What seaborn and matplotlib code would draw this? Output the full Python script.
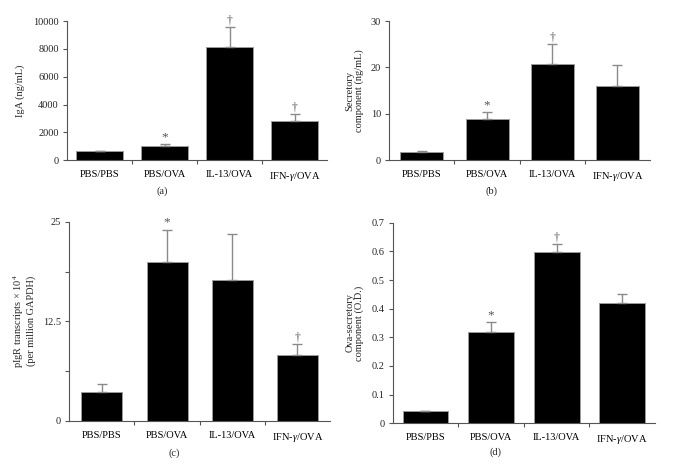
import matplotlib
matplotlib.use("Agg")
import matplotlib.pyplot as plt
import seaborn as sns
import pandas as pd
import numpy as np

groups = ["PBS/PBS", "PBS/OVA", "IL-13/OVA", "IFN-$\\gamma$/OVA"]

iga_mean = [650, 1030, 8150, 2800]
iga_err = [40, 120, 1400, 500]
iga_marks = ["", "*", "\u2020", "\u2020"]

sc_mean = [1.8, 9.0, 20.7, 15.9]
sc_err = [0.1, 1.3, 4.3, 4.6]
sc_marks = ["", "*", "\u2020", ""]

pigr_mean = [3.7, 19.9, 17.7, 8.3]
pigr_err = [0.9, 4.1, 5.7, 1.3]
pigr_marks = ["", "*", "", "\u2020"]

ova_mean = [0.042, 0.319, 0.598, 0.420]
ova_err = [0.002, 0.033, 0.026, 0.032]
ova_marks = ["", "*", "\u2020", ""]

sns.set_theme(style="ticks")
plt.rcParams['font.family'] = ['Liberation Serif', 'DejaVu Serif']
plt.rcParams['mathtext.fontset'] = 'custom'
plt.rcParams['mathtext.it'] = 'Liberation Serif:italic'
plt.rcParams['mathtext.rm'] = 'Liberation Serif'

fig = plt.figure(figsize=(6.81, 4.66), dpi=100)

AX_COL = "#555555"
ERR_COL = "#8a8a8a"
FS = 7.5

def panel(rect, means, errs, marks, ylim, yticks, yticklabels, ylabel, caption, cap_xy, width, labelpad):
    ax = fig.add_axes(rect)
    df = pd.DataFrame({"group": groups, "value": means})
    sns.barplot(data=df, x="group", y="value", ax=ax, color="black",
                edgecolor="#9a9a9a", linewidth=0.7, width=width, errorbar=None,
                saturation=1)
    x = np.arange(len(groups))
    ax.errorbar(x, means, yerr=[np.zeros(len(errs)), errs], fmt="none",
                ecolor=ERR_COL, elinewidth=1.0, capsize=3.5, capthick=1.0, zorder=3)
    span = ylim[1] - ylim[0]
    for xi, m, e, mk in zip(x, means, errs, marks):
        if mk:
            ax.text(xi, m + e + span * 0.005, mk, ha="center", va="bottom",
                    fontsize=9.5 if mk == "*" else 8.5, color="#555555")
    ax.set_ylim(*ylim)
    ax.set_xlim(-0.5, 3.5)
    ax.set_yticks(yticks)
    ax.set_yticklabels(yticklabels)
    ax.set_xticks(x)
    ax.set_xticklabels(groups)
    ax.set_xticks([0.5, 1.5, 2.5], minor=True)
    ax.tick_params(axis="x", which="major", length=0, pad=7, labelsize=FS, colors="black")
    ax.tick_params(axis="x", which="minor", length=3, width=0.8, color=AX_COL, direction="out")
    ax.tick_params(axis="y", length=3, width=0.8, color=AX_COL, labelsize=FS, pad=3)
    ax.set_xlabel("")
    ax.set_ylabel(ylabel, fontsize=FS, labelpad=labelpad, linespacing=1.0)
    for s in ["top", "right"]:
        ax.spines[s].set_visible(False)
    for s in ["left", "bottom"]:
        ax.spines[s].set_color(AX_COL)
        ax.spines[s].set_linewidth(0.8)
    fig.text(cap_xy[0] / 681, 1 - cap_xy[1] / 466, caption, ha="center", va="center", fontsize=FS)
    return ax

panel([67 / 681, 1 - 160.3 / 466, 260 / 681, 139.3 / 466], iga_mean, iga_err, iga_marks,
      (0, 10000), [0, 2000, 4000, 6000, 8000, 10000],
      ["0", "2000", "4000", "6000", "8000", "10000"], "IgA (ng/mL)", "(a)", (162, 191), 0.72, 6)

panel([389.3 / 681, 1 - 160.3 / 466, 260.7 / 681, 139.3 / 466], sc_mean, sc_err, sc_marks,
      (0, 30), [0, 10, 20, 30], ["0", "10", "20", "30"],
      "Secretory\ncomponent (ng/mL)", "(b)", (491, 191), 0.66, 5)

panel([69.3 / 681, 1 - 421 / 466, 260.7 / 681, 199.3 / 466], pigr_mean, pigr_err, pigr_marks,
      (0, 25), [0, 6.25, 12.5, 18.75, 25], ["0", "", "12.5", "", "25"],
      "pIgR transcripts \u00d7 10$^4$\n(per million GAPDH)", "(c)", (174, 453), 0.63, 5)

panel([392.7 / 681, 1 - 423.3 / 466, 262.3 / 681, 200.6 / 466], ova_mean, ova_err, ova_marks,
      (0, 0.7), [0, 0.1, 0.2, 0.3, 0.4, 0.5, 0.6, 0.7],
      ["0", "0.1", "0.2", "0.3", "0.4", "0.5", "0.6", "0.7"],
      "Ova-secretory\ncomponent (O.D.)", "(d)", (496, 452), 0.7, 5)

fig.savefig("out.png", dpi=100)
